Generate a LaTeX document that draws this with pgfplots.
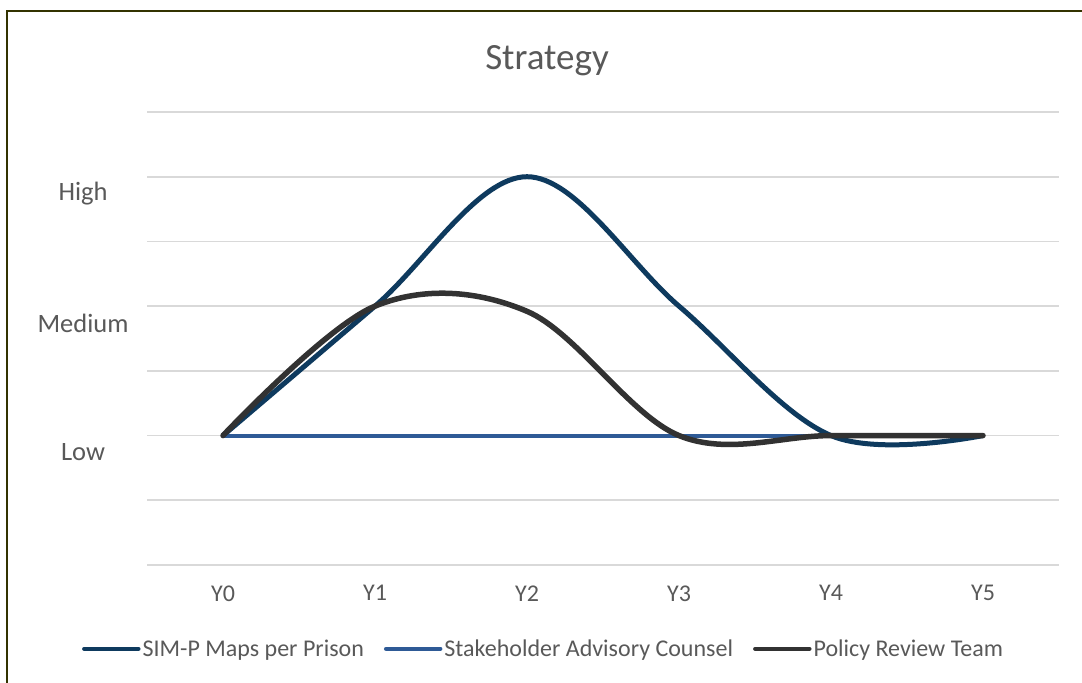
\documentclass[border=0pt]{standalone}
\usepackage{fontspec}
\setmainfont{Carlito}
\usepackage{pgfplots}
\pgfplotsset{compat=1.18}

\definecolor{simp}{RGB}{14,58,94}
\definecolor{stake}{RGB}{46,90,150}
\definecolor{policy}{RGB}{50,50,50}
\definecolor{txt}{RGB}{89,89,89}
\definecolor{gridc}{RGB}{217,217,217}
\definecolor{frame}{RGB}{51,51,0}

\begin{document}
\begin{tikzpicture}
\path[use as bounding box, fill=white] (0,0) rectangle (1082bp,683bp);
\begin{axis}[
    at={(147bp,118bp)}, anchor=south west,
    scale only axis,
    width=912bp, height=453bp,
    xmin=-0.5, xmax=5.5,
    ymin=0, ymax=7,
    xtick={0,...,5},
    xticklabels={Y0,Y1,Y2,Y3,Y4,Y5},
    ytick={0,...,7},
    yticklabels={,,Low,,Medium,,High,},
    major tick length=0pt,
    axis line style={draw=none},
    ymajorgrids,
    grid style={gridc, line width=1.8bp},
    tick label style={txt},
    xticklabel style={font=\fontsize{24bp}{28bp}\selectfont, yshift=-17bp},
    yticklabel style={font=\fontsize{26.5bp}{30bp}\selectfont, anchor=center, xshift=-64bp, yshift=-17bp},
    legend columns=3,
    legend style={draw=none, fill=none, at={(0.4348,-0.185)}, anchor=center,
        font=\fontsize{24bp}{28bp}\selectfont, text=txt,
        nodes={inner xsep=2bp},
        /tikz/every even column/.append style={column sep=18bp},
        inner sep=0pt},
    legend image code/.code={\draw[#1, line width=4.5bp, line cap=round] (0bp,0bp) -- (54bp,0bp);},
]
\addplot[simp, line width=5bp, smooth, tension=0.58] coordinates {
    (0,2) (1,4) (2,6) (3,4) (4,2) (5,2)
};
\addlegendentry{SIM-P Maps per Prison}
\addplot[stake, line width=4bp] coordinates {
    (0,2) (1,2) (2,2) (3,2) (4,2) (5,2)
};
\addlegendentry{Stakeholder Advisory Counsel}
\addplot[policy, line width=5.5bp, smooth, tension=0.58, line cap=round] coordinates {
    (0,2) (1,4) (2,3.92) (3,2) (4,2) (5,2)
};
\addlegendentry{Policy Review Team}
\end{axis}
\node[txt, font=\fontsize{37bp}{42bp}\selectfont] at (547bp,622bp) {Strategy};
\draw[frame, line width=2bp] (7bp,0) -- (7bp,672bp) -- (1082bp,672bp);
\end{tikzpicture}
\end{document}
